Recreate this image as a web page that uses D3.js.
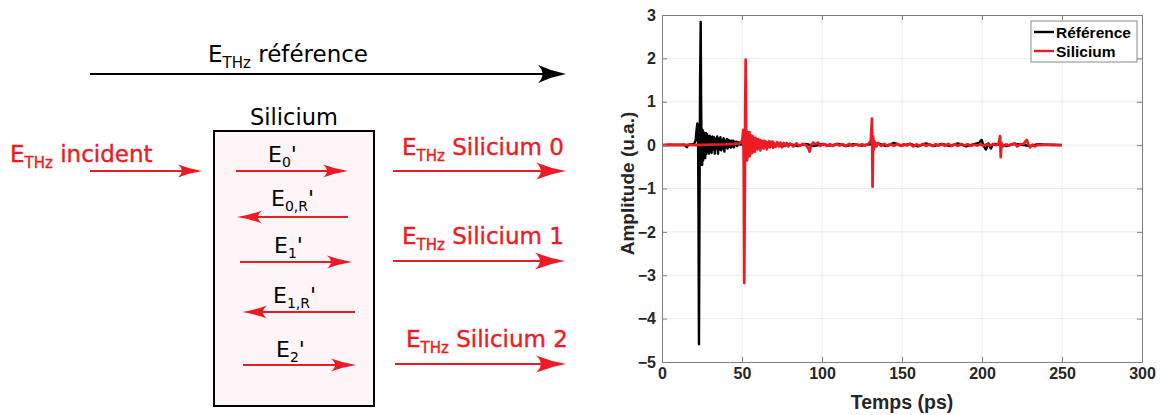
<!DOCTYPE html>
<html><head><meta charset="utf-8">
<script src="https://cdn.jsdelivr.net/npm/d3@7"></script>
<style>
html,body{margin:0;padding:0;background:#fff;}
svg{display:block;}
</style></head>
<body>
<svg id="c" width="1160" height="415"></svg>
<script>
// ---------------- DATA ----------------
const xTicks = [0, 50, 100, 150, 200, 250, 300];
const yTicks = [-5, -4, -3, -2, -1, 0, 1, 2, 3];
const seriesNames = ["Référence", "Silicium"];
const xLabel = "Temps (ps)";
const yLabel = "Amplitude (u.a.)";

// [time (ps), amplitude (u.a.)]
const reference = [
[0,0],[5,0.01],[10,0],[14,0.01],[15.5,-0.05],[16.5,0.01],[19,0.02],[20,0.03],[21,0.1],[21.6,0.35],[22.1,0.5],[22.5,0.3],
[22.8,-1.5],[23.1,-4.59],[23.5,-1.0],[23.8,1.5],[24.2,2.84],[24.5,0.8],[24.8,-0.3],[25.1,-0.46],[25.4,0.35],[25.7,-0.35],
[26.0,0.3],[26.3,-0.25],[26.6,0.25],[27.0,-0.3],[27.4,0.28],[27.8,-0.2],[28.2,0.25],[28.6,-0.15],[29.0,0.2],[29.4,-0.2],
[29.8,0.22],[30.2,-0.12],[30.6,0.18],[31.0,-0.18],[31.5,0.2],[32.0,-0.1],[32.5,0.18],[33.0,-0.2],[33.5,0.15],[34.0,-0.08],
[34.5,0.2],[35.0,-0.2],[35.5,0.15],[36.0,-0.1],[36.5,0.18],[37.0,-0.12],[37.5,0.12],[38.0,-0.08],[38.5,0.16],[39.0,-0.15],
[39.5,0.1],[40.0,-0.05],[40.5,0.14],[41.0,-0.08],[41.5,0.12],[42.0,-0.04],[42.5,0.1],[43.0,-0.06],[43.5,0.1],[44.0,-0.03],
[44.5,0.1],[45.0,-0.05],[45.5,0.08],[46.0,0],[46.5,0.08],[47.0,-0.02],[47.5,0.07],[48.0,0.02],[48.5,0.06],[49.0,0.01],
[49.5,0.05],[50,0.02],[51,0.06],[52,0.0],[53,0.05],[55,-0.03],[57,0.04],[60,-0.04],[63,0.03],[66,-0.05],[70,0.03],
[75,-0.03],[80,0.02],[85,-0.02],[90,0.03],[95,-0.02],[100,0.02],[105,-0.01],[110,0.03],[115,-0.02],[120,0.02],[125,-0.01],
[130,0.02],[135,0.04],[140,-0.02],[145,0.05],[150,-0.01],[155,0.03],[160,-0.03],[165,0.04],[170,-0.02],[175,0.03],
[180,-0.02],[185,0.04],[190,-0.03],[195,0.02],[198,0.05],[199.8,0.12],[201,-0.02],[202.5,-0.1],[204,0.04],[205.5,-0.08],
[207,0.03],[210,0.02],[215,-0.02],[220,0.03],[225,0.01],[230,-0.02],[235,0.02],[240,0.01],[245,0.01],[250,0]
];
const silicium = [
[0,0],[10,0.01],[20,0],[30,0.01],[40,0.02],[45,0.03],[48,0.04],[49.5,0.06],[50.3,0.15],[50.8,0.35],[51.1,-0.5],[51.4,-3.18],
[51.8,-0.8],[52.0,0.8],[52.3,1.97],[52.6,0.5],[52.9,-0.2],[53.2,-0.35],[53.5,0.3],[53.8,-0.28],[54.1,0.25],[54.4,-0.2],
[54.7,0.3],[55.0,-0.25],[55.3,0.2],[55.7,-0.15],[56.0,0.22],[56.4,-0.18],[56.8,0.2],[57.2,-0.1],[57.6,0.15],[58.0,-0.15],
[58.4,0.17],[58.8,-0.08],[59.2,0.12],[59.6,-0.1],[60.0,0.14],[60.5,-0.06],[61.0,0.12],[61.5,-0.12],[62.0,0.1],[62.5,-0.05],
[63.0,0.1],[63.5,-0.08],[64.0,0.1],[64.5,-0.04],[65.0,0.08],[65.5,-0.1],[66.0,0.06],[66.5,-0.04],[67.0,0.09],[67.5,-0.05],
[68.0,0.07],[68.5,-0.03],[69.0,0.08],[69.5,-0.06],[70.0,0.05],[71,-0.04],[72,0.07],[73,-0.03],[74,0.06],[75,-0.05],
[76,0.05],[77,-0.02],[78,0.05],[79,-0.03],[80,0.04],[82,-0.03],[84,0.04],[86,-0.02],[88,0.03],[90,0.0],[91.5,-0.08],
[92.3,-0.15],[93.2,0.0],[94.5,0.06],[96,0.02],[97.5,0.06],[99,-0.02],[101,0.03],[103,-0.02],[105,0.02],[107,-0.02],
[109,0.03],[111,-0.01],[113,0.02],[115,-0.02],[117,0.03],[119,-0.02],[121,0.02],[123,-0.01],[125,0.02],[127,-0.01],
[129,0.03],[130.5,0.1],[131.2,0.61],[131.6,-0.96],[132.0,0.2],[132.4,-0.1],[133,0.08],[134,-0.03],[135,0.05],[137,-0.02],
[139,0.03],[141,-0.02],[143,0.02],[145,-0.02],[147,0.03],[149,-0.02],[151,0.02],[153,-0.01],[155,0.03],[157,-0.03],
[159,0.02],[161,-0.02],[163,0.03],[165,-0.02],[167,0.02],[169,-0.02],[171,0.02],[173,-0.01],[175,0.02],[177,-0.02],
[179,0.03],[181,-0.02],[183,0.02],[185,-0.02],[187,0.03],[189,-0.01],[191,0.02],[193,-0.02],[195,0.01],[197,-0.01],
[199,0.02],[201,-0.01],[203,0.02],[205,-0.01],[207,0.02],[209,0.0],[210.5,0.05],[211.3,0.21],[211.7,-0.28],[212.2,0.05],
[213,-0.03],[215,0.02],[217,-0.01],[219,0.02],[220.5,0.04],[222,-0.03],[224,0.02],[226,0.03],[228,0.12],[229,0.02],
[230,-0.05],[231.5,0.01],[233,-0.03],[235,0.01],[237,0.0],[240,0.01],[243,0],[246,0.0],[250,0]
];

// ---------------- DRAW ----------------
const RED = "#ed1c24";
const svg = d3.select("#c");
const dfont = "'DejaVu Sans', sans-serif";
const cfont = "'Liberation Sans', Arial, sans-serif";

// ---------- left diagram ----------
const diag = svg.append("g");
function arrow(x1, x2, y, color, len, half, w) {
  const dir = x2 > x1 ? 1 : -1;
  diag.append("line").attr("x1", x1).attr("x2", x2 - dir * len * 0.6).attr("y1", y).attr("y2", y)
    .attr("stroke", color).attr("stroke-width", w);
  const L = len * dir;
  const p = `M${x2},${y} Q${x2 - L*0.5},${y - half*0.3} ${x2 - L},${y - half} Q${x2 - L*0.68},${y} ${x2 - L},${y + half} Q${x2 - L*0.5},${y + half*0.3} ${x2},${y} Z`;
  diag.append("path").attr("d", p).attr("fill", color);
}
function label(x, y, main, sub, rest, color, size, subSize, weight) {
  const t = diag.append("text").attr("x", x).attr("y", y).attr("fill", color)
    .style("font-family", dfont).style("font-size", size + "px");
  if (weight) t.attr("stroke", color).attr("stroke-width", weight);
  t.append("tspan").text(main);
  t.append("tspan").attr("dy", size * 0.24).style("font-size", subSize + "px").text(sub);
  if (rest) t.append("tspan").attr("dy", -size * 0.24).text(rest);
  return t;
}

// box
diag.append("rect").attr("x", 214).attr("y", 131).attr("width", 160).attr("height", 275)
  .attr("fill", "#fdf5f7").attr("stroke", "#000").attr("stroke-width", 2);
diag.append("text").attr("x", 250).attr("y", 125).text("Silicium")
  .style("font-family", dfont).style("font-size", "22.5px").attr("fill", "#000");

// reference
label(208, 62, "E", "THz", " référence", "#000", 23, 15);
arrow(90, 566, 74, "#000", 28, 9, 2);

// incident
label(10, 162, "E", "THz", " incident", RED, 23, 15, 0.4);
arrow(90, 202, 171, RED, 24, 6.5, 2);

// inner
label(268, 162, "E", "0", "'", "#000", 22, 14);
arrow(236, 348, 171, RED, 25, 6.5, 2);
label(271, 206, "E", "0,R", "'", "#000", 22, 14);
arrow(348, 237, 217, RED, 25, 6.5, 2);
label(274, 253, "E", "1", "'", "#000", 22, 14);
arrow(240, 352, 262, RED, 25, 6.5, 2);
label(273, 303, "E", "1,R", "'", "#000", 22, 14);
arrow(355, 242, 312, RED, 25, 6.5, 2);
label(276, 357, "E", "2", "'", "#000", 22, 14);
arrow(243, 356, 365, RED, 25, 6.5, 2);

// outer
label(402, 155, "E", "THz", " Silicium 0", RED, 23, 15, 0.4);
arrow(393, 566, 171, RED, 30, 8.5, 2);
label(402, 244, "E", "THz", " Silicium 1", RED, 23, 15, 0.4);
arrow(393, 565, 261, RED, 30, 8.5, 2);
label(406, 347, "E", "THz", " Silicium 2", RED, 23, 15, 0.4);
arrow(395, 566, 364, RED, 30, 8.5, 2);

// ---------- chart ----------
const x = d3.scaleLinear().domain([0, 300]).range([662, 1142]);
const y = d3.scaleLinear().domain([-5, 3]).range([362, 15]);
const ch = svg.append("g");
ch.append("rect").attr("x", x(0)).attr("y", y(3)).attr("width", x(300) - x(0)).attr("height", y(-5) - y(3)).attr("fill", "#fff");

// grid
ch.append("g").selectAll("line").data(xTicks.slice(1, -1)).join("line")
  .attr("x1", d => x(d)).attr("x2", d => x(d)).attr("y1", y(3)).attr("y2", y(-5))
  .attr("stroke", "#ebebeb").attr("stroke-width", 1);
ch.append("g").selectAll("line").data(yTicks.slice(1, -1)).join("line")
  .attr("y1", d => y(d)).attr("y2", d => y(d)).attr("x1", x(0)).attr("x2", x(300))
  .attr("stroke", "#ebebeb").attr("stroke-width", 1);

// lines
const line = d3.line().x(d => x(d[0])).y(d => y(d[1]));
ch.append("path").datum(reference).attr("d", line).attr("fill", "none")
  .attr("stroke", "#000").attr("stroke-width", 2.4).attr("stroke-linejoin", "round");
ch.append("path").datum(silicium).attr("d", line).attr("fill", "none")
  .attr("stroke", RED).attr("stroke-width", 2.7).attr("stroke-linejoin", "round");

// axes
const AX = "#808080";
function styleAxis(g) {
  g.select(".domain").attr("stroke", AX);
  g.selectAll(".tick line").attr("stroke", AX);
  g.selectAll(".tick text").attr("fill", "#262626")
    .style("font-family", cfont).style("font-size", "16px").style("font-weight", "bold");
}
ch.append("g").attr("transform", `translate(0,${y(-5)})`)
  .call(d3.axisBottom(x).tickValues(xTicks).tickSizeInner(-5).tickSizeOuter(0).tickPadding(6))
  .call(styleAxis);
ch.append("g").attr("transform", `translate(${x(0)},0)`)
  .call(d3.axisLeft(y).tickValues(yTicks).tickSizeInner(-5).tickSizeOuter(0).tickPadding(6))
  .call(styleAxis);
ch.append("g").attr("transform", `translate(0,${y(3)})`)
  .call(d3.axisTop(x).tickValues(xTicks).tickSizeInner(-5).tickSizeOuter(0).tickFormat(""))
  .call(styleAxis);
ch.append("g").attr("transform", `translate(${x(300)},0)`)
  .call(d3.axisRight(y).tickValues(yTicks).tickSizeInner(-5).tickSizeOuter(0).tickFormat(""))
  .call(styleAxis);

// axis labels
ch.append("text").attr("x", (x(0) + x(300)) / 2).attr("y", 409).attr("text-anchor", "middle")
  .attr("fill", "#262626").style("font-family", cfont).style("font-size", "19.5px").style("font-weight", "bold")
  .text(xLabel);
ch.append("text").attr("transform", `translate(634,${(y(3) + y(-5)) / 2 - 5}) rotate(-90)`).attr("text-anchor", "middle")
  .attr("fill", "#262626").style("font-family", cfont).style("font-size", "19px").style("font-weight", "bold")
  .text(yLabel);

// legend
const lg = ch.append("g");
lg.append("rect").attr("x", 1031).attr("y", 21).attr("width", 106).attr("height", 41)
  .attr("fill", "#fff").attr("stroke", "#8a8a8a").attr("stroke-width", 1);
const lcolors = ["#000", RED];
seriesNames.forEach((n, i) => {
  const yy = 32 + i * 19;
  lg.append("line").attr("x1", 1034).attr("x2", 1054).attr("y1", yy).attr("y2", yy)
    .attr("stroke", lcolors[i]).attr("stroke-width", 2.4);
  lg.append("text").attr("x", 1056).attr("y", yy + 5.5).text(n).attr("fill", "#000")
    .style("font-family", cfont).style("font-size", "15.5px").style("font-weight", "bold");
});
</script>
</body></html>
